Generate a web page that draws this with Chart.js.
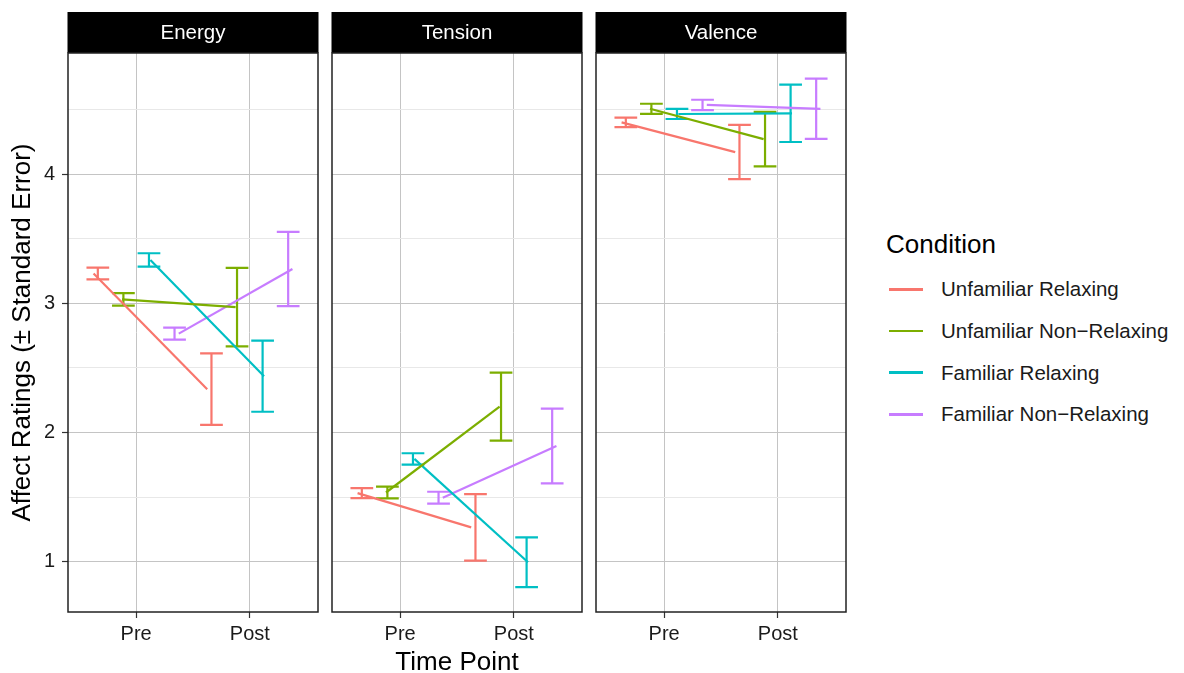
<!DOCTYPE html>
<html>
<head>
<meta charset="utf-8">
<script src="https://cdn.jsdelivr.net/npm/chart.js@4.4.1/dist/chart.umd.min.js"></script>
<style>
  html, body { margin: 0; padding: 0; background: #fff; overflow: hidden; }
  #wrap { position: relative; width: 1184px; height: 673px; font-family: Helvetica, "Liberation Sans", Arial, sans-serif; color: #000; }
  #wrap canvas { position: absolute; top: 0; }
  .leg-title { position: absolute; left: 886px; top: 229px; font-size: 26px; line-height: 30px; white-space: nowrap; }
  .leg-swatch { position: absolute; left: 889px; width: 34px; height: 2.6px; }
  .leg-label { position: absolute; left: 941px; font-size: 20.5px; line-height: 24px; white-space: nowrap; color: #1a1a1a; }
</style>
</head>
<body>
<div id="wrap">
  <canvas id="c0" width="322" height="673" style="left:0px"></canvas>
  <canvas id="c1" width="259" height="673" style="left:328px"></canvas>
  <canvas id="c2" width="259" height="673" style="left:592px"></canvas>
  <div class="leg-title">Condition</div>
</div>
<script>
// Panels, time points and conditions
const facets = ['Energy', 'Tension', 'Valence'];
const timePoints = ['Pre', 'Post'];
const conditions = ['Unfamiliar Relaxing', 'Unfamiliar Non\u2212Relaxing', 'Familiar Relaxing', 'Familiar Non\u2212Relaxing'];
const colors = ['#F8766D', '#7CAE00', '#00BFC4', '#C77CFF'];

// Mean ratings per condition (same order as conditions)
const energyPre = [3.23, 3.03, 3.335, 2.765];
const energyPost = [2.335, 2.97, 2.435, 3.265];
const tensionPre = [1.53, 1.535, 1.795, 1.495];
const tensionPost = [1.265, 2.20, 0.995, 1.895];
const valencePre = [4.40, 4.505, 4.465, 4.535];
const valencePost = [4.17, 4.27, 4.47, 4.505];

// Standard errors
const energyPreSE = [0.045, 0.049, 0.052, 0.046];
const energyPostSE = [0.277, 0.304, 0.275, 0.287];
const tensionPreSE = [0.039, 0.045, 0.044, 0.046];
const tensionPostSE = [0.257, 0.263, 0.193, 0.29];
const valencePreSE = [0.037, 0.039, 0.039, 0.04];
const valencePostSE = [0.21, 0.211, 0.222, 0.233];

// Axis ticks
const yMajorTicks = [1, 2, 3, 4];
const yMinorTicks = [1.5, 2.5, 3.5, 4.5];

const preMeans = [energyPre, tensionPre, valencePre];
const postMeans = [energyPost, tensionPost, valencePost];
const preSE = [energyPreSE, tensionPreSE, valencePreSE];
const postSE = [energyPostSE, tensionPostSE, valencePostSE];

// Layout / style settings
const yMin = 0.61, yMax = 4.937;
const xMin = 0.4, xMax = 2.6;
const lineDodge = [-0.375, -0.125, 0.125, 0.375];
const barDodge = [-0.3375, -0.1125, 0.1125, 0.3375];
const capHalfWidth = 0.1;
const markWidth = 2.2;
const FONT = 'Helvetica, "Liberation Sans", Arial, sans-serif';
const textColor = '#1a1a1a';
const majorGrid = '#c4c4c4';
const minorGrid = '#e8e8e8';

Chart.defaults.font.family = FONT;
Chart.defaults.color = textColor;

function facetPlugin(f) {
  return {
    id: 'facetDeco' + f,
    beforeDatasetsDraw(chart) {
      const { ctx, scales: { x, y } } = chart;
      const capPx = x.getPixelForValue(1 + capHalfWidth) - x.getPixelForValue(1);
      ctx.save();
      ctx.lineWidth = markWidth;
      ctx.lineCap = 'butt';
      conditions.forEach((_, i) => {
        [[preMeans, preSE], [postMeans, postSE]].forEach(([m, se], t) => {
          const mean = m[f][i], e = se[f][i];
          const px = x.getPixelForValue(t + 1 + barDodge[i]);
          const top = y.getPixelForValue(mean + e);
          const bot = y.getPixelForValue(mean - e);
          ctx.strokeStyle = colors[i];
          ctx.beginPath();
          ctx.moveTo(px - capPx, top); ctx.lineTo(px + capPx, top);
          ctx.moveTo(px, top); ctx.lineTo(px, bot);
          ctx.moveTo(px - capPx, bot); ctx.lineTo(px + capPx, bot);
          ctx.stroke();
        });
      });
      ctx.restore();
    },
    afterDraw(chart) {
      const { ctx, chartArea: a } = chart;
      ctx.save();
      // strip header
      ctx.fillStyle = '#000';
      ctx.fillRect(a.left - 0.5, a.top - 41, a.right - a.left + 1, 41);
      ctx.fillStyle = '#fff';
      ctx.font = '20.5px ' + FONT;
      ctx.textAlign = 'center';
      ctx.textBaseline = 'middle';
      ctx.fillText(facets[f], (a.left + a.right) / 2, a.top - 19.5);
      // panel border
      ctx.strokeStyle = '#222';
      ctx.lineWidth = 1.5;
      ctx.strokeRect(a.left, a.top, a.right - a.left, a.bottom - a.top);
      ctx.restore();
    }
  };
}

function buildChart(f) {
  const first = f === 0, mid = f === 1;
  const datasets = conditions.map((name, i) => ({
    label: name,
    data: [
      { x: 1 + lineDodge[i], y: preMeans[f][i] },
      { x: 2 + lineDodge[i], y: postMeans[f][i] }
    ],
    borderColor: colors[i],
    backgroundColor: colors[i],
    borderWidth: markWidth,
    pointRadius: 0,
    tension: 0,
    fill: false
  }));

  return new Chart(document.getElementById('c' + f), {
    type: 'line',
    data: { datasets },
    options: {
      responsive: false,
      animation: false,
      devicePixelRatio: 1,
      layout: { padding: { top: 53, bottom: 0, left: first ? 0 : 4, right: first ? 4 : 5 } },
      plugins: { legend: { display: false }, tooltip: { enabled: false } },
      scales: {
        x: {
          type: 'linear',
          min: xMin,
          max: xMax,
          afterBuildTicks: s => { s.ticks = timePoints.map((_, i) => ({ value: i + 1 })); },
          afterFit: s => { s.height = 61; },
          ticks: {
            callback: v => timePoints[Math.round(v) - 1],
            font: { size: 20 },
            color: textColor,
            padding: 4,
            maxRotation: 0,
            autoSkip: false
          },
          grid: { color: majorGrid, lineWidth: 1, tickLength: 6, tickColor: '#333', tickWidth: 1.2 },
          border: { display: false },
          title: {
            display: mid,
            text: 'Time Point',
            font: { size: 26, lineHeight: 0.8 },
            color: '#000',
            padding: { top: 0, bottom: 0 }
          }
        },
        y: {
          type: 'linear',
          min: yMin,
          max: yMax,
          afterBuildTicks: s => {
            s.ticks = yMajorTicks.concat(yMinorTicks).sort((a, b) => a - b).map(v => ({ value: v }));
          },
          afterFit: s => { s.width = first ? 68 : 0; },
          ticks: {
            display: first,
            callback: v => (yMajorTicks.includes(v) ? String(v) : ''),
            font: { size: 20 },
            color: textColor,
            padding: 7
          },
          grid: {
            color: c => (yMajorTicks.includes(c.tick.value) ? majorGrid : minorGrid),
            lineWidth: 1,
            drawTicks: first,
            tickLength: 6,
            tickWidth: 1.2,
            tickColor: c => (yMajorTicks.includes(c.tick.value) ? '#333' : 'rgba(0,0,0,0)')
          },
          border: { display: false },
          title: {
            display: first,
            text: 'Affect Ratings (\u00B1 Standard Error)',
            font: { size: 26 },
            color: '#000',
            padding: { top: 7, bottom: 0 }
          }
        }
      }
    },
    plugins: [facetPlugin(f)]
  });
}

facets.forEach((_, f) => buildChart(f));

// Legend
const wrap = document.getElementById('wrap');
const legendRowY = [289.3, 331, 372.7, 414.3];
conditions.forEach((name, i) => {
  const sw = document.createElement('div');
  sw.className = 'leg-swatch';
  sw.style.top = (legendRowY[i] - 1.3) + 'px';
  sw.style.background = colors[i];
  wrap.appendChild(sw);
  const lb = document.createElement('div');
  lb.className = 'leg-label';
  lb.style.top = (legendRowY[i] - 12) + 'px';
  lb.textContent = name;
  wrap.appendChild(lb);
});
</script>
</body>
</html>
